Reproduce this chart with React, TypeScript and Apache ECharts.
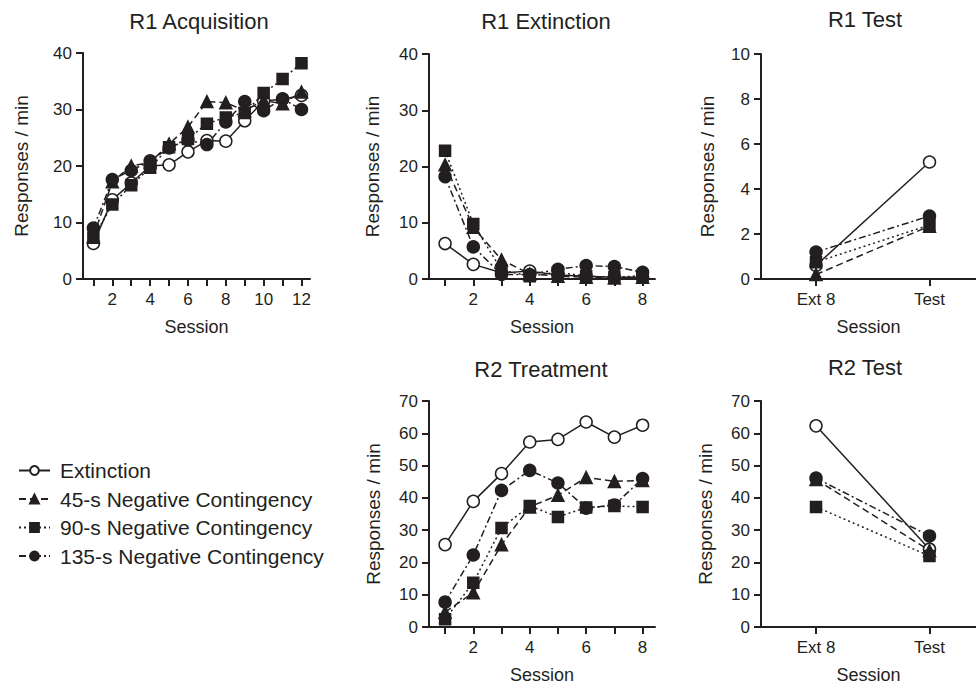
import React, { useEffect, useRef } from "react";
import * as echarts from "echarts";

const SERIES_NAMES = [
  "Extinction",
  "45-s Negative Contingency",
  "90-s Negative Contingency",
  "135-s Negative Contingency",
];

// R1 Acquisition
const acqSessions = [1, 2, 3, 4, 5, 6, 7, 8, 9, 10, 11, 12];
const acqTickLabels = [2, 4, 6, 8, 10, 12];
const acqExtinction = [6.3, 14.0, 17.0, 20.0, 20.2, 22.5, 24.5, 24.4, 28.0, 31.5, 31.8, 32.5];
const acqNeg45 = [7.5, 17.2, 20.0, 20.6, 23.9, 26.9, 31.4, 31.2, 29.8, 31.6, 31.0, 33.1];
const acqNeg90 = [7.3, 13.2, 16.6, 19.7, 23.3, 24.8, 27.5, 28.6, 29.4, 32.9, 35.4, 38.2];
const acqNeg135 = [9.0, 17.6, 19.2, 20.9, 23.2, 24.6, 23.8, 27.8, 31.4, 29.8, 31.9, 30.0];

// R1 Extinction
const extSessions = [1, 2, 3, 4, 5, 6, 7, 8];
const extTickLabels = [2, 4, 6, 8];
const extExtinction = [6.3, 2.6, 1.1, 1.4, 0.7, 0.5, 0.3, 0.3];
const extNeg45 = [20.3, 9.2, 3.4, 0.9, 0.5, 0.3, 0.2, 0.3];
const extNeg90 = [22.8, 9.8, 1.6, 0.5, 1.2, 0.5, 0.3, 0.6];
const extNeg135 = [18.2, 5.7, 0.8, 0.8, 1.7, 2.4, 2.2, 1.2];

// Test phases
const testLabels = ["Ext 8", "Test"];
const testPositions = [0, 1];
const r1TestExtinction = [0.6, 5.2];
const r1TestNeg45 = [0.2, 2.35];
const r1TestNeg90 = [0.75, 2.4];
const r1TestNeg135 = [1.2, 2.8];

// R2 Treatment
const trtSessions = [1, 2, 3, 4, 5, 6, 7, 8];
const trtTickLabels = [2, 4, 6, 8];
const trtExtinction = [25.5, 38.9, 47.5, 57.3, 58.1, 63.5, 58.8, 62.5];
const trtNeg45 = [4.6, 10.6, 25.5, 37.2, 40.8, 46.3, 45.1, 45.4];
const trtNeg90 = [2.4, 13.7, 30.7, 37.5, 34.1, 37.0, 37.5, 37.2];
const trtNeg135 = [7.7, 22.3, 42.3, 48.5, 44.6, 36.8, 37.8, 46.0];

// R2 Test
const r2TestExtinction = [62.3, 24.1];
const r2TestNeg45 = [45.7, 23.7];
const r2TestNeg90 = [37.2, 22.0];
const r2TestNeg135 = [46.1, 28.2];

const FONT = '"Liberation Sans", Arial, Helvetica, sans-serif';
const INK = "#231f20";

const seriesStyles = [
  { symbol: "circle", size: 12, fill: "#ffffff", dash: "solid" as any },
  { symbol: "triangle", size: 12, fill: INK, dash: [7, 4] as any },
  { symbol: "rect", size: 11, fill: INK, dash: [2, 3] as any },
  { symbol: "circle", size: 12, fill: INK, dash: [7, 3, 2, 3] as any },
];

const panels = [
  {
    title: "R1 Acquisition", tx: 199, ty: 21,
    grid: { left: 83, top: 53, width: 227, height: 226 },
    xMin: 0.45, xMax: 12.45, xs: acqSessions, ticks: acqSessions, labels: acqTickLabels,
    yMax: 40, yInt: 10, nameGap: 52, test: false,
    data: [acqExtinction, acqNeg45, acqNeg90, acqNeg135],
  },
  {
    title: "R1 Extinction", tx: 546, ty: 21,
    grid: { left: 429, top: 54, width: 226, height: 225 },
    xMin: 0.43, xMax: 8.44, xs: extSessions, ticks: extSessions, labels: extTickLabels,
    yMax: 40, yInt: 10, nameGap: 47, test: false,
    data: [extExtinction, extNeg45, extNeg90, extNeg135],
  },
  {
    title: "R1 Test", tx: 865, ty: 19,
    grid: { left: 761, top: 54, width: 215, height: 225 },
    xMin: -0.485, xMax: 1.41, xs: testPositions, ticks: testPositions, labels: testPositions,
    yMax: 10, yInt: 2, nameGap: 44, test: true,
    data: [r1TestExtinction, r1TestNeg45, r1TestNeg90, r1TestNeg135],
  },
  {
    title: "R2 Treatment", tx: 541, ty: 369,
    grid: { left: 429, top: 401, width: 226, height: 226 },
    xMin: 0.43, xMax: 8.44, xs: trtSessions, ticks: trtSessions, labels: trtTickLabels,
    yMax: 70, yInt: 10, nameGap: 46, test: false,
    data: [trtExtinction, trtNeg45, trtNeg90, trtNeg135],
  },
  {
    title: "R2 Test", tx: 865, ty: 367,
    grid: { left: 761, top: 401, width: 215, height: 226 },
    xMin: -0.485, xMax: 1.41, xs: testPositions, ticks: testPositions, labels: testPositions,
    yMax: 70, yInt: 10, nameGap: 46, test: true,
    data: [r2TestExtinction, r2TestNeg45, r2TestNeg90, r2TestNeg135],
  },
];

export default function App() {
  const ref = useRef<HTMLDivElement>(null);
  useEffect(() => {
    document.body.style.margin = "0";
    const chart = echarts.init(ref.current!, null, { renderer: "svg" });
    const axisLine = { show: true, onZero: false, lineStyle: { color: INK, width: 2 } };
    const axisTick = { show: true, length: 7, lineStyle: { color: INK, width: 2 } };
    const labelStyle = { color: INK, fontSize: 17, fontFamily: FONT };
    const xNameStyle = { color: INK, fontSize: 18, fontFamily: FONT };
    const yNameStyle = { color: INK, fontSize: 19, fontFamily: FONT };

    const grids = panels.map((p) => ({ ...p.grid, containLabel: false }));
    const xAxes = panels.map((p, i) => ({
      type: "value",
      gridIndex: i,
      min: p.xMin,
      max: p.xMax,
      name: "Session",
      nameLocation: "middle",
      nameGap: 39,
      nameTextStyle: xNameStyle,
      axisLine,
      axisTick: { ...axisTick, customValues: p.ticks },
      axisLabel: {
        ...labelStyle,
        margin: 12,
        customValues: p.labels,
        formatter: (v: number) => (p.test ? testLabels[Math.round(v)] : String(v)),
      },
      splitLine: { show: false },
    }));
    const yAxes = panels.map((p, i) => ({
      type: "value",
      gridIndex: i,
      min: 0,
      max: p.yMax,
      interval: p.yInt,
      name: "Responses / min",
      nameLocation: "middle",
      nameGap: p.nameGap,
      nameTextStyle: yNameStyle,
      axisLine,
      axisTick,
      axisLabel: { ...labelStyle, margin: 11 },
      splitLine: { show: false },
    }));
    const series: any[] = [];
    panels.forEach((p, i) => {
      p.data.forEach((vals, k) => {
        const s = seriesStyles[k];
        series.push({
          type: "line",
          name: SERIES_NAMES[k],
          xAxisIndex: i,
          yAxisIndex: i,
          data: vals.map((v, j) => [p.xs[j], v]),
          symbol: s.symbol,
          symbolSize: s.size,
          showAllSymbol: true,
          clip: false,
          lineStyle: { color: INK, width: 1.5, type: s.dash },
          itemStyle: { color: s.fill, borderColor: INK, borderWidth: 1.5 },
          emphasis: { disabled: true },
          z: 2 + k,
        });
      });
    });
    const graphic = panels.map((p) => ({
      type: "text",
      x: p.tx,
      y: p.ty,
      style: {
        text: p.title,
        fill: INK,
        font: `22px ${FONT}`,
        align: "center",
        verticalAlign: "middle",
      },
    }));
    chart.setOption({
      animation: false,
      textStyle: { fontFamily: FONT, color: INK },
      grid: grids,
      xAxis: xAxes,
      yAxis: yAxes,
      series,
      graphic,
      legend: {
        data: SERIES_NAMES,
        orient: "vertical",
        left: 13,
        top: 455,
        itemWidth: 31,
        itemHeight: 11,
        itemGap: 7.5,
        selectedMode: false,
        textStyle: { fontSize: 21, color: INK, fontFamily: FONT, padding: [0, 0, 0, 5] },
      },
    });
    return () => chart.dispose();
  }, []);
  return (
    <div
      ref={ref}
      style={{ position: "absolute", left: 0, top: 0, width: 976, height: 689, background: "#fff" }}
    />
  );
}
